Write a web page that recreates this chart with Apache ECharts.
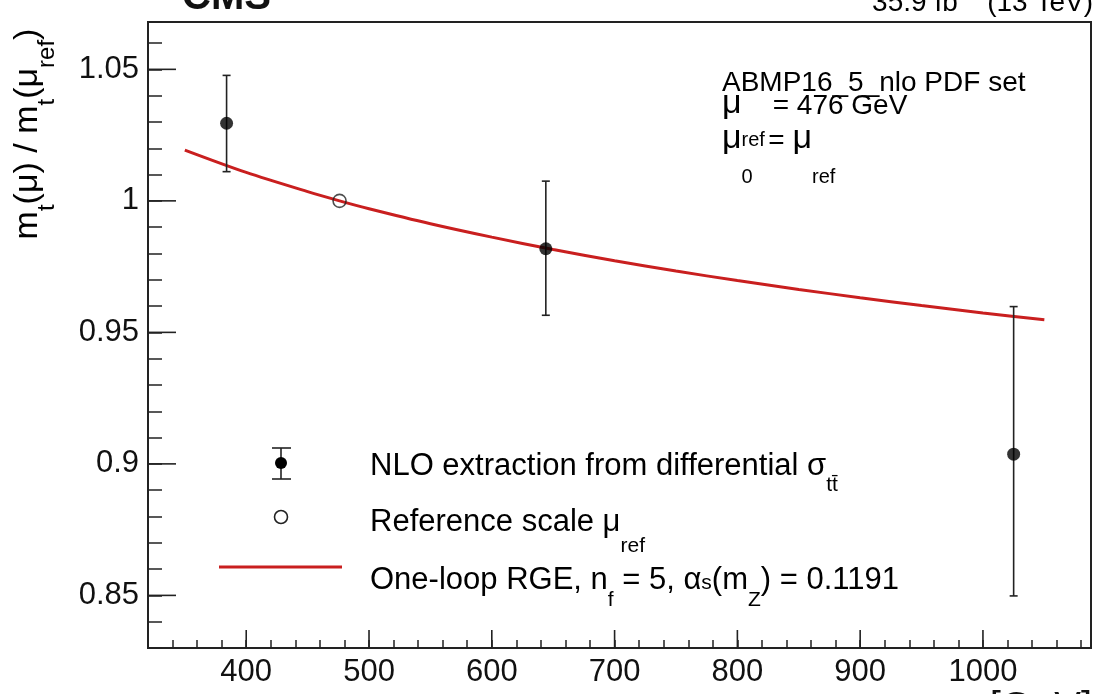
<!DOCTYPE html>
<html>
<head>
<meta charset="utf-8">
<script src="https://cdn.jsdelivr.net/npm/echarts@6/dist/echarts.min.js"></script>
<style>
html,body{margin:0;padding:0;background:#fff;}
#chart{width:1094px;height:694px;}
</style>
</head>
<body>
<div id="chart"></div>
<script>
// ---- data ----
const nloMu      = [384, 644, 1025];
const nloRatio   = [1.0295, 0.9818, 0.9037];
const nloErrUp   = [0.0182, 0.0257, 0.0561];
const nloErrDown = [0.0184, 0.0253, 0.0539];

const refMu    = [476];
const refRatio = [1.0];

const rgeMu    = [350, 400, 450, 476, 500, 550, 600, 650, 700, 750, 800, 850, 900, 950, 1000, 1050];
const rgeRatio = [1.0193, 1.0108, 1.0035, 1.0, 0.9970, 0.9913, 0.9862, 0.9815, 0.9772, 0.9733, 0.9697, 0.9663, 0.9632, 0.9602, 0.9574, 0.9548];

const xMajorTicks  = [400, 500, 600, 700, 800, 900, 1000];
const xTickLabels  = ['400', '500', '600', '700', '800', '900', '1000'];
const yMajorTicks  = [0.85, 0.9, 0.95, 1.0, 1.05];
const yTickLabels  = ['0.85', '0.9', '0.95', '1', '1.05'];

const X_MIN = 320, X_MAX = 1088, Y_MIN = 0.83, Y_MAX = 1.068;

const FONT = "'Liberation Sans', Arial, Helvetica, sans-serif";
const TXT = '#111';
const B = 6; // common top padding so larger glyphs can sit on the same baseline

// rich text helper: main size F; subscripts of size f lowered by 'off' px (baseline to baseline);
// optional greek style 'g' of size G on the main baseline
function richStyles(F, subs, G) {
  const tok = (size, P) => ({ fontSize: size, lineHeight: size, verticalAlign: 'top', padding: [P, 0, 0, 0], fontFamily: FONT, color: TXT });
  const r = { m: tok(F, B) };
  if (G) r.g = tok(G, Math.max(0, B + 0.85 * F - 0.85 * G));
  for (const k in subs) {
    const f = subs[k].size, off = subs[k].off;
    r[k] = tok(f, Math.max(0, B + 0.85 * F + off - 0.85 * f));
  }
  return r;
}
// top y of a rich block whose main text baseline should be at 'baseline'
function lbl(F, baseline) { return baseline - 0.35 * F - F / 2 - B; }

const chart = echarts.init(document.getElementById('chart'), null, { renderer: 'canvas' });

const majorTickData = [];
xMajorTicks.forEach(v => majorTickData.push([v, Y_MIN, 0]));
yMajorTicks.forEach(v => majorTickData.push([X_MIN, v, 1]));

const errData = nloMu.map((m, i) => [m, nloRatio[i], nloRatio[i] - nloErrDown[i], nloRatio[i] + nloErrUp[i]]);

const option = {
  animation: false,
  backgroundColor: '#fff',
  grid: { left: 148, right: 3, top: 22, bottom: 46, show: true, borderColor: '#222', borderWidth: 2, backgroundColor: 'transparent' },
  xAxis: {
    type: 'value', min: X_MIN, max: X_MAX, interval: 20,
    axisLine: { show: true, lineStyle: { color: '#222', width: 2 } },
    axisTick: { show: true, inside: true, length: 8, lineStyle: { color: '#222', width: 1.5 } },
    splitLine: { show: false },
    axisLabel: {
      margin: 9, color: TXT, fontSize: 31, fontFamily: FONT,
      formatter: v => { const i = xMajorTicks.indexOf(Math.round(v)); return (i >= 0 && Math.abs(v - Math.round(v)) < 1e-6) ? xTickLabels[i] : ''; }
    }
  },
  yAxis: {
    type: 'value', min: Y_MIN, max: Y_MAX, interval: 0.01,
    axisLine: { show: true, lineStyle: { color: '#222', width: 2 } },
    axisTick: { show: true, inside: true, length: 14, lineStyle: { color: '#222', width: 1.5 } },
    splitLine: { show: false },
    axisLabel: {
      margin: 9, color: TXT, fontSize: 31, fontFamily: FONT,
      formatter: v => { const i = yMajorTicks.findIndex(t => Math.abs(t - v) < 1e-6); return i >= 0 ? yTickLabels[i] : ''; }
    }
  },
  series: [
    {
      name: 'majorTicks', type: 'custom', silent: true, z: 1, clip: false,
      data: majorTickData,
      renderItem: (params, api) => {
        const p = api.coord([api.value(0), api.value(1)]);
        const isY = api.value(2) === 1;
        const shape = isY ? { x1: p[0], y1: p[1], x2: p[0] + 28, y2: p[1] } : { x1: p[0], y1: p[1], x2: p[0], y2: p[1] - 18 };
        return { type: 'line', shape, style: { stroke: '#222', lineWidth: 1.6 } };
      }
    },
    {
      name: 'One-loop RGE', type: 'line', z: 2, smooth: 0.3, symbol: 'none',
      data: rgeMu.map((m, i) => [m, rgeRatio[i]]),
      lineStyle: { color: '#c91f1f', width: 3 }
    },
    {
      name: 'NLO errors', type: 'custom', z: 3, silent: true,
      data: errData,
      renderItem: (params, api) => {
        const x = api.value(0);
        const pLo = api.coord([x, api.value(2)]);
        const pHi = api.coord([x, api.value(3)]);
        const w = 4;
        const st = { stroke: '#222', lineWidth: 1.6 };
        return { type: 'group', children: [
          { type: 'line', shape: { x1: pLo[0], y1: pLo[1], x2: pHi[0], y2: pHi[1] }, style: st },
          { type: 'line', shape: { x1: pLo[0] - w, y1: pLo[1], x2: pLo[0] + w, y2: pLo[1] }, style: st },
          { type: 'line', shape: { x1: pHi[0] - w, y1: pHi[1], x2: pHi[0] + w, y2: pHi[1] }, style: st }
        ]};
      }
    },
    {
      name: 'NLO extraction', type: 'scatter', z: 4, symbol: 'circle', symbolSize: 13,
      data: nloMu.map((m, i) => [m, nloRatio[i]]),
      itemStyle: { color: '#000' }
    },
    {
      name: 'Reference scale', type: 'scatter', z: 4, symbol: 'circle', symbolSize: 13,
      data: refMu.map((m, i) => [m, refRatio[i]]),
      itemStyle: { color: 'rgba(255,255,255,0)', borderColor: '#222', borderWidth: 1.6 }
    }
  ],
  graphic: [
    // cut-off header texts
    { type: 'text', x: 182, y: 12 - 0.35 * 40, silent: true,
      style: { text: 'CMS', fontSize: 40, fontWeight: 'bold', fontFamily: FONT, fill: TXT, align: 'left', verticalAlign: 'middle' } },
    { type: 'text', x: 1093, y: 13 - 43.8, silent: true,
      style: { text: '{m|35.9 fb}{p|\u22121}{m| (13 TeV)}', align: 'right', verticalAlign: 'top',
        rich: {
          m: { fontSize: 28, lineHeight: 28, verticalAlign: 'top', padding: [20, 0, 0, 0], fontFamily: FONT, color: TXT },
          p: { fontSize: 19, lineHeight: 19, verticalAlign: 'top', padding: [0, 0, 0, 0], fontFamily: FONT, color: TXT }
        } } },
    { type: 'text', x: 1092, y: 723 - 0.35 * 40, silent: true,
      style: { text: '\u03BC [GeV]', fontSize: 40, fontFamily: FONT, fill: TXT, align: 'right', verticalAlign: 'middle' } },
    // y-axis title (rotated)
    { type: 'text', x: 11 - B, y: 134, rotation: Math.PI / 2, silent: true,
      style: { text: '{m|m}{s|t}{m|(\u03BC) / m}{s|t}{m|(\u03BC}{s|ref}{m|)}', align: 'center', verticalAlign: 'top',
        rich: richStyles(34, { s: { size: 24, off: 16 } }) } },
    // annotation block
    { type: 'text', x: 722, y: lbl(28, 93), silent: true,
      style: { text: '{m|ABMP16_5_nlo PDF set}', align: 'left', verticalAlign: 'top', rich: richStyles(28, {}) } },
    { type: 'text', x: 722, y: lbl(28, 116), silent: true,
      style: { text: '{g|\u03BC}{s|ref}{m| = 476 GeV}', align: 'left', verticalAlign: 'top', rich: richStyles(28, { s: { size: 20, off: 31 } }, 34) } },
    { type: 'text', x: 722, y: lbl(28, 151), silent: true,
      style: { text: '{g|\u03BC}{s|0}{m|  = }{g|\u03BC}{s|ref}', align: 'left', verticalAlign: 'top', rich: richStyles(28, { s: { size: 20, off: 33 } }, 34) } },
    // legend icons
    { type: 'line', silent: true, shape: { x1: 281, y1: 448, x2: 281, y2: 479 }, style: { stroke: '#222', lineWidth: 1.6 } },
    { type: 'line', silent: true, shape: { x1: 272, y1: 448, x2: 291, y2: 448 }, style: { stroke: '#222', lineWidth: 1.6 } },
    { type: 'line', silent: true, shape: { x1: 272, y1: 479, x2: 291, y2: 479 }, style: { stroke: '#222', lineWidth: 1.6 } },
    { type: 'circle', silent: true, shape: { cx: 281, cy: 463, r: 6 }, style: { fill: '#000' } },
    { type: 'circle', silent: true, shape: { cx: 281, cy: 517, r: 6.5 }, style: { fill: 'none', stroke: '#222', lineWidth: 1.6 } },
    { type: 'line', silent: true, shape: { x1: 219, y1: 567, x2: 342, y2: 567 }, style: { stroke: '#c91f1f', lineWidth: 3 } },
    // legend texts
    { type: 'text', x: 370, y: lbl(31, 477), silent: true,
      style: { text: '{m|NLO extraction from differential \u03C3}{s|tt\u0304}', align: 'left', verticalAlign: 'top',
        rich: richStyles(31, { s: { size: 21, off: 16 } }) } },
    { type: 'text', x: 370, y: lbl(31, 533), silent: true,
      style: { text: '{m|Reference scale \u03BC}{s|ref}', align: 'left', verticalAlign: 'top',
        rich: richStyles(31, { s: { size: 21, off: 21 } }) } },
    { type: 'text', x: 370, y: lbl(31, 591), silent: true,
      style: { text: '{m|One-loop RGE, n}{s|f}{m| = 5, \u03B1}{s0|s}{m|(m}{s|Z}{m|) = 0.1191}', align: 'left', verticalAlign: 'top',
        rich: richStyles(31, { s: { size: 21, off: 17 }, s0: { size: 21, off: 0 } }) } }
  ]
};
chart.setOption(option);
</script>
</body>
</html>
